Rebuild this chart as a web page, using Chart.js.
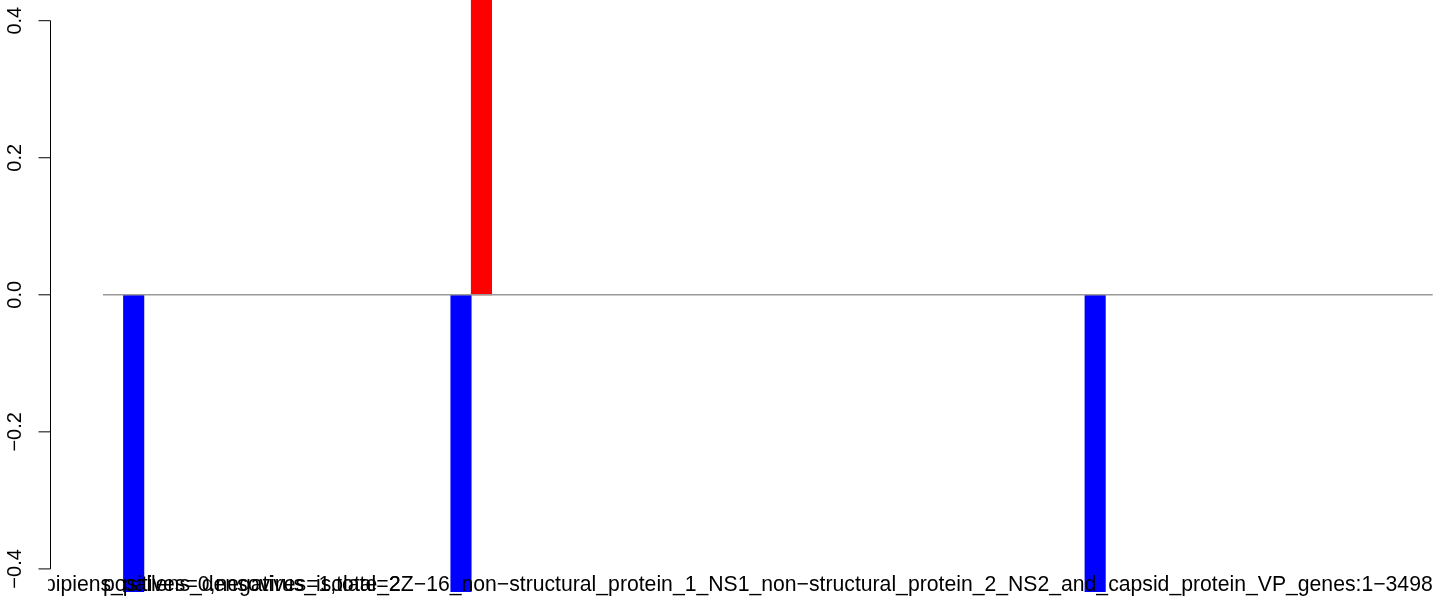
<!DOCTYPE html>
<html><head><meta charset="utf-8">
<script src="https://cdn.jsdelivr.net/npm/chart.js@4"></script>
<style>html,body{margin:0;padding:0;background:#fff}#c{display:block}</style>
</head><body>
<canvas id="c" width="1444" height="605"></canvas>
<script>
// 65 bar slots along the x axis (null = zero-height bar)
const slots = ["1","2","3","4","5","6","7","8","9","10","11","12","13","14","15","16","17","18","19","20",
"21","22","23","24","25","26","27","28","29","30","31","32","33","34","35","36","37","38","39","40",
"41","42","43","44","45","46","47","48","49","50","51","52","53","54","55","56","57","58","59","60",
"61","62","63","64","65"];
const negatives = [null,-1,null,null,null,null,null,null,null,null, null,null,null,null,null,null,null,-1,null,null,
null,null,null,null,null,null,null,null,null,null, null,null,null,null,null,null,null,null,null,null,
null,null,null,null,null,null,null,null,-1,null, null,null,null,null,null,null,null,null,null,null,
null,null,null,null,null];
const positives = [null,null,null,null,null,null,null,null,null,null, null,null,null,null,null,null,null,null,1,null,
null,null,null,null,null,null,null,null,null,null, null,null,null,null,null,null,null,null,null,null,
null,null,null,null,null,null,null,null,null,null, null,null,null,null,null,null,null,null,null,null,
null,null,null,null,null];
const yTicks = [-0.4, -0.2, 0.0, 0.2, 0.4];
const yTickLabels = ["\u22120.4", "\u22120.2", "0.0", "0.2", "0.4"];
const longLabel = "Culex_pipiens_pallens_densovirus_isolate_2Z\u221216_non\u2212structural_protein_1_NS1_non\u2212structural_protein_2_NS2_and_capsid_protein_VP_genes:1\u22123498";
const countLabel = "positives=0,negatives=1,total=2";

const TICK_FONT = '20px "Liberation Sans", Arial, sans-serif';
const LABEL_FONT = '21.2px "Liberation Sans", Arial, sans-serif';

const decor = {
  id: 'decor',
  afterDatasetsDraw(chart) {
    const {ctx, chartArea, scales} = chart;
    const ys = scales.y, xs = scales.x;
    ctx.save();
    // zero line
    const y0 = ys.getPixelForValue(0);
    ctx.strokeStyle = '#9a9a9a';
    ctx.lineWidth = 1.4;
    ctx.beginPath();
    ctx.moveTo(chartArea.left, y0);
    ctx.lineTo(chartArea.right, y0);
    ctx.stroke();
    // y axis
    const ax = 50.5;
    ctx.strokeStyle = '#000';
    ctx.lineWidth = 1;
    ctx.beginPath();
    ctx.moveTo(ax, ys.getPixelForValue(yTicks[0]));
    ctx.lineTo(ax, ys.getPixelForValue(yTicks[yTicks.length-1]));
    yTicks.forEach(t => {
      const p = ys.getPixelForValue(t);
      ctx.moveTo(ax, p);
      ctx.lineTo(ax - 12, p);
    });
    ctx.stroke();
    ctx.fillStyle = '#000';
    ctx.font = TICK_FONT;
    ctx.textAlign = 'center';
    ctx.textBaseline = 'alphabetic';
    yTicks.forEach((t, i) => {
      const p = ys.getPixelForValue(t);
      ctx.save();
      ctx.translate(21, p);
      ctx.rotate(-Math.PI / 2);
      ctx.fillText(yTickLabels[i], 0, 0);
      ctx.restore();
    });
    // x labels
    ctx.beginPath();
    ctx.rect(48, 0, chart.width - 48, chart.height);
    ctx.clip();
    ctx.font = LABEL_FONT;
    const half = (xs.getPixelForValue(1) - xs.getPixelForValue(0)) / 2;
    const base = 590.5;
    ctx.textAlign = 'right';
    ctx.fillText(longLabel, xs.getPixelForValue(slots.length - 1) + half, base);
    ctx.textAlign = 'left';
    ctx.fillText(countLabel, xs.getPixelForValue(0) - half, base);
    ctx.restore();
  }
};

new Chart(document.getElementById('c'), {
  type: 'bar',
  data: {
    labels: slots,
    datasets: [
      {label: 'negatives', data: negatives, backgroundColor: '#0000ff', borderWidth: 0},
      {label: 'positives', data: positives, backgroundColor: '#ff0000', borderWidth: 0}
    ]
  },
  options: {
    responsive: false,
    animation: false,
    devicePixelRatio: 1,
    layout: {padding: {left: 103, right: 11.3, top: 0, bottom: 13}},
    plugins: {legend: {display: false}, tooltip: {enabled: false}},
    datasets: {bar: {barPercentage: 1, categoryPercentage: 1}},
    scales: {
      x: {display: false, stacked: true, grid: {display: false}},
      y: {display: false, stacked: true, min: -0.4337, max: 0.4302, grid: {display: false}}
    }
  },
  plugins: [decor]
});
</script>
</body></html>
